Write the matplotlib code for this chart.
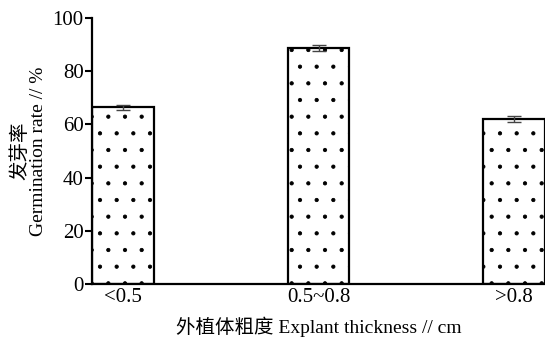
import matplotlib
matplotlib.use("Agg")
import matplotlib.pyplot as plt
import numpy as np

categories = ["<0.5", "0.5~0.8", ">0.8"]
values = [66.5, 88.8, 62.0]
errors = [1.0, 1.0, 1.0]
yticks = [0, 20, 40, 60, 80, 100]

plt.rcParams['font.family'] = ['Liberation Serif', 'Noto Sans CJK SC', 'DejaVu Sans']
plt.rcParams['hatch.linewidth'] = 0.6

fig = plt.figure(figsize=(5.45, 3.41), dpi=100)
ax = fig.add_axes([0.169, 0.167, 0.831, 0.78])

x = np.arange(len(categories))
width = 0.316
ax.bar(x, values, width=width, color='white', edgecolor='black', linewidth=1.6,
       hatch='.', zorder=2)
ax.errorbar(x, values, yerr=errors, fmt='none', ecolor='#444444', elinewidth=1.0,
            capsize=5, capthick=1.0, zorder=3)

ax.set_xlim(-width / 2, len(categories) - 1 + width / 2)
ax.set_ylim(0, 100)
ax.set_yticks(yticks)
ax.set_yticklabels([str(v) for v in yticks], fontsize=15)
ax.set_xticks(x)
ax.set_xticklabels(categories, fontsize=15)
ax.tick_params(axis='x', length=0, pad=3)
ax.tick_params(axis='y', direction='out', length=5, width=1.5, pad=1)

for s in ['top', 'right']:
    ax.spines[s].set_visible(False)
for s in ['left', 'bottom']:
    ax.spines[s].set_linewidth(1.6)

ax.set_ylabel("发芽率\nGermination rate // %", fontsize=14, linespacing=1.05, labelpad=4)
ax.set_xlabel("外植体粗度 Explant thickness // cm", fontsize=14, labelpad=7)

fig.savefig("out.png", dpi=100)
